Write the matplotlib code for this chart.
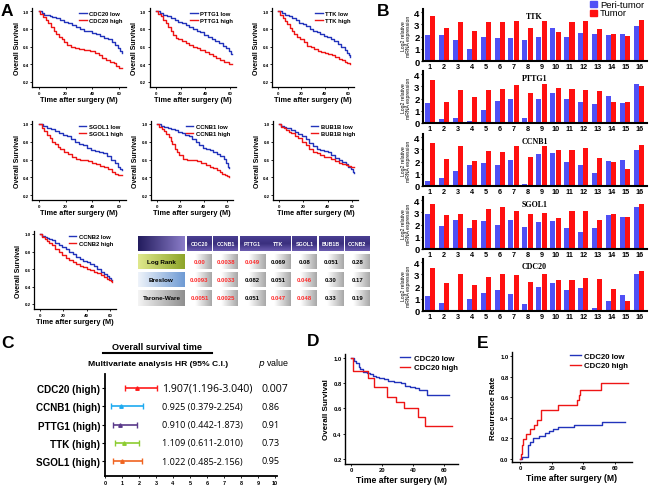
import numpy as np
import matplotlib
matplotlib.use('Agg')
import matplotlib.pyplot as plt
from matplotlib.colors import LinearSegmentedColormap

plt.rcParams['font.family'] = ['Liberation Sans', 'DejaVu Sans']

# ---------------- DATA ----------------
# Panel A: Kaplan-Meier overall survival (months, survival fraction)
cdc20_low_t = [0, 2, 4, 6, 8, 10, 13, 16, 19, 22, 25, 28, 31, 34, 37, 40, 43, 46, 49, 52, 55, 57, 59, 61, 62]
cdc20_low_s = [1.0, .98, .96, .95, .94, .93, .92, .90, .88, .86, .84, .82, .80, .78, .77, .75, .74, .72, .70, .68, .65, .62, .58, .55, .53]
cdc20_high_t = [0, 1, 3, 5, 7, 9, 11, 13, 15, 17, 19, 21, 24, 27, 30, 34, 38, 42, 45, 47, 50, 53, 56, 58, 60, 62]
cdc20_high_s = [1.0, .97, .93, .90, .86, .82, .78, .74, .71, .68, .65, .62, .60, .58, .57, .56, .55, .53, .50, .47, .45, .43, .41, .38, .36, .36]

pttg1_low_t = [0, 3, 6, 9, 12, 15, 18, 21, 24, 27, 30, 33, 36, 39, 42, 45, 48, 51, 54, 57, 59, 61, 62]
pttg1_low_s = [1.0, .98, .96, .94, .92, .90, .88, .86, .84, .82, .80, .78, .76, .73, .71, .68, .66, .64, .61, .58, .55, .52, .51]
pttg1_high_t = [0, 2, 4, 6, 8, 10, 12, 14, 16, 18, 21, 24, 27, 30, 33, 36, 40, 43, 46, 49, 52, 55, 57, 59, 62]
pttg1_high_s = [1.0, .97, .94, .90, .86, .82, .77, .73, .70, .68, .66, .64, .62, .60, .58, .56, .54, .51, .49, .47, .45, .43, .42, .40, .40]

ttk_low_t = [0, 3, 6, 9, 12, 15, 18, 21, 24, 27, 30, 33, 36, 39, 42, 45, 48, 51, 54, 57, 59, 61, 62]
ttk_low_s = [1.0, .98, .96, .94, .92, .90, .87, .85, .83, .80, .78, .76, .74, .72, .71, .69, .66, .63, .60, .56, .53, .50, .48]
ttk_high_t = [0, 2, 4, 6, 8, 10, 12, 14, 16, 19, 22, 25, 28, 31, 34, 37, 40, 43, 46, 49, 52, 55, 57, 59, 62]
ttk_high_s = [1.0, .96, .92, .89, .85, .81, .77, .74, .71, .68, .65, .61, .59, .57, .55, .54, .53, .51, .50, .48, .46, .45, .43, .41, .40]

sgol1_low_t = [0, 3, 6, 9, 12, 15, 18, 21, 24, 27, 30, 33, 36, 39, 42, 45, 48, 51, 54, 57, 59, 61, 62]
sgol1_low_s = [1.0, .98, .96, .94, .92, .90, .88, .86, .83, .80, .78, .76, .73, .71, .70, .69, .67, .64, .60, .56, .52, .49, .48]
sgol1_high_t = [0, 2, 4, 6, 8, 10, 12, 14, 16, 19, 22, 25, 28, 31, 34, 37, 40, 43, 46, 49, 52, 55, 57, 59, 62]
sgol1_high_s = [1.0, .96, .92, .88, .84, .80, .77, .74, .72, .69, .66, .63, .61, .60, .59, .58, .56, .55, .53, .51, .49, .46, .44, .43, .42]

ccnb1_low_t = [0, 3, 6, 9, 12, 15, 18, 21, 24, 27, 30, 33, 36, 39, 42, 45, 48, 51, 54, 57, 59, 61, 62]
ccnb1_low_s = [1.0, .98, .97, .96, .94, .93, .91, .90, .88, .86, .83, .80, .76, .73, .72, .71, .69, .66, .64, .61, .56, .52, .50]
ccnb1_high_t = [0, 2, 4, 6, 8, 10, 12, 13, 15, 17, 19, 22, 26, 30, 34, 38, 42, 45, 48, 51, 54, 56, 58, 60, 62]
ccnb1_high_s = [1.0, .97, .94, .92, .89, .85, .81, .77, .72, .68, .65, .61, .60, .59, .58, .56, .54, .52, .50, .48, .46, .44, .42, .41, .40]

bub1b_low_t = [0, 2, 4, 6, 8, 10, 13, 16, 19, 22, 25, 28, 31, 34, 37, 40, 43, 46, 49, 52, 55, 57, 59, 61, 62]
bub1b_low_s = [1.0, .98, .97, .96, .95, .93, .91, .89, .86, .83, .79, .75, .72, .71, .70, .68, .65, .62, .59, .57, .55, .52, .49, .46, .45]
bub1b_high_t = [0, 2, 4, 6, 8, 10, 13, 16, 19, 22, 25, 28, 31, 34, 37, 40, 43, 46, 49, 52, 55, 57, 59, 61, 62]
bub1b_high_s = [1.0, .97, .95, .93, .91, .90, .87, .84, .80, .76, .72, .69, .67, .65, .63, .63, .61, .58, .56, .55, .54, .53, .52, .51, .51]

ccnb2_low_t = [0, 2, 4, 6, 8, 10, 13, 16, 19, 22, 25, 28, 31, 34, 37, 40, 43, 46, 49, 52, 55, 57, 59, 61, 62]
ccnb2_low_s = [1.0, .98, .97, .95, .94, .93, .90, .87, .85, .83, .80, .77, .74, .71, .69, .68, .66, .63, .60, .57, .54, .52, .50, .48, .47]
ccnb2_high_t = [0, 2, 4, 6, 8, 10, 13, 16, 19, 22, 25, 28, 31, 34, 37, 40, 43, 46, 49, 52, 55, 57, 59, 61, 62]
ccnb2_high_s = [1.0, .97, .94, .92, .90, .87, .83, .79, .76, .73, .70, .68, .66, .64, .62, .60, .59, .57, .55, .53, .51, .49, .47, .46, .45]

# Table p-values
table_genes = ['CDC20', 'CCNB1', 'PTTG1', 'TTK', 'SGOL1', 'BUB1B', 'CCNB2']
table_tests = ['Log Rank', 'Breslow', 'Tarone-Ware']
logrank_p = ['0.00', '0.0038', '0.049', '0.069', '0.08', '0.051', '0.28']
breslow_p = ['0.0093', '0.0033', '0.082', '0.051', '0.046', '0.30', '0.17']
tarone_p = ['0.0051', '0.0025', '0.051', '0.047', '0.048', '0.33', '0.19']

# Panel B: Log2 relative mRNA expression in 16 paired samples
samples = list(range(1, 17))
ttk_peri = [2.1, 2.1, 1.7, 1.0, 2.0, 1.9, 1.85, 1.7, 2.0, 2.7, 2.0, 2.3, 2.2, 2.1, 2.2, 2.9]
ttk_tumor = [3.7, 2.7, 3.2, 2.5, 3.2, 3.2, 3.3, 2.7, 3.25, 2.4, 3.2, 3.25, 2.6, 2.2, 2.05, 3.35]
pttg1_peri = [1.6, 0.3, 0.4, 0.2, 1.1, 1.8, 2.0, 0.4, 1.95, 2.45, 1.95, 1.7, 1.55, 2.2, 1.6, 3.2]
pttg1_tumor = [3.5, 1.7, 2.7, 2.1, 2.7, 2.75, 3.1, 2.5, 3.2, 2.9, 2.75, 2.7, 2.65, 1.7, 1.7, 3.0]
ccnb1_peri = [0.4, 0.63, 1.2, 1.75, 1.9, 1.75, 2.1, 0.15, 2.6, 2.7, 2.0, 1.7, 1.1, 2.05, 2.1, 2.95]
ccnb1_tumor = [3.5, 2.2, 3.3, 2.05, 2.9, 2.8, 3.3, 2.35, 3.3, 2.95, 2.95, 3.15, 2.3, 1.95, 1.4, 3.35]
sgol1_peri = [2.9, 1.9, 2.4, 1.7, 2.3, 2.0, 2.4, 1.8, 2.2, 2.3, 1.7, 1.4, 1.75, 2.8, 2.6, 3.45]
sgol1_tumor = [3.7, 2.8, 2.9, 2.35, 3.3, 3.45, 3.1, 2.9, 2.95, 2.55, 3.15, 3.1, 2.35, 2.9, 2.6, 3.65]
cdc20_peri = [1.2, 0.63, 0.05, 0.95, 1.45, 1.75, 1.4, 0.6, 1.95, 2.3, 1.7, 1.9, 0.27, 0.8, 1.35, 3.0]
cdc20_tumor = [3.5, 2.3, 3.0, 2.1, 2.8, 3.0, 2.95, 2.4, 3.0, 2.55, 2.55, 2.7, 2.6, 1.8, 0.8, 3.25]

# Panel C: multivariate Cox analysis
c_labels = ['CDC20 (high)', 'CCNB1 (high)', 'PTTG1 (high)', 'TTK (high)', 'SGOL1 (high)']
c_hr = [1.907, 0.925, 0.910, 1.109, 1.022]
c_lo = [1.196, 0.379, 0.442, 0.611, 0.485]
c_hi = [3.040, 2.254, 1.873, 2.010, 2.156]
c_p = ['0.007', '0.86', '0.91', '0.73', '0.95']

# Panel D: overall survival by CDC20
d_low_t = [0, 2, 3, 5, 6, 8, 10, 12, 14, 16, 18, 21, 24, 28, 32, 35, 38, 41, 44, 47, 49, 63]
d_low_s = [1.0, .98, .96, .93, .91, .89, .88, .87, .86, .85, .84, .83, .82, .81, .80, .78, .77, .76, .75, .75, .71, .71]
d_high_t = [0, 1, 11, 15, 23, 29, 34, 43, 48, 65]
d_high_s = [1.0, .90, .84, .77, .69, .65, .60, .53, .46, .46]

# Panel E: recurrence by CDC20
e_low_t = [0, 1, 4.5, 5, 6, 8, 12, 16, 18, 21, 24, 34, 52, 66]
e_low_s = [0, .02, .02, .14, .17, .20, .22, .25, .27, .29, .31, .33, .36, .36]
e_high_t = [0, 0.5, 1, 2, 4, 6, 9, 11, 13, 24, 36, 37, 38, 51, 68]
e_high_s = [0, .05, .14, .19, .24, .29, .33, .38, .48, .52, .57, .62, .67, .74, .74]

BLUE = '#2233bb'
RED = '#ee1515'
BAR_BLUE = '#5050f5'
BAR_RED = '#ff1010'

# ---------------- FIGURE ----------------
W, H = 650, 489
fig = plt.figure(figsize=(6.5, 4.89), dpi=100)


def px_axes(l, t, r, b, **kw):
    return fig.add_axes([l / W, 1 - b / H, (r - l) / W, (b - t) / H], **kw)


def style_axes(ax, lw=1.0):
    for s in ['top', 'right']:
        ax.spines[s].set_visible(False)
    for s in ['left', 'bottom']:
        ax.spines[s].set_linewidth(lw)


def bold_ticks(ax):
    for lbl in ax.get_xticklabels() + ax.get_yticklabels():
        lbl.set_fontweight('bold')


def km_panel(t0, t60, y1, y02, low, high, gene):
    ppt = (t60 - t0) / 60.0
    ppv = (y02 - y1) / 0.8
    xl, xr = -5, 65
    yb, yt = 0.14, 1.03
    ax = px_axes(t0 + xl * ppt, y1 - (yt - 1.0) * ppv, t0 + xr * ppt, y1 + (1.0 - yb) * ppv)
    ax.step(low[0], low[1], where='post', color=BLUE, lw=1.0, label=gene + ' low')
    ax.step(high[0], high[1], where='post', color=RED, lw=1.0, label=gene + ' high')
    ax.set_xlim(xl, xr)
    ax.set_ylim(yb, yt)
    ax.set_xticks([0, 20, 40, 60])
    ax.set_yticks([0.2, 0.4, 0.6, 0.8, 1.0])
    ax.set_yticklabels(['0.2', '0.4', '0.6', '0.8', '1.0'])
    ax.tick_params(labelsize=3.2, length=1.5, width=0.6, pad=1)
    bold_ticks(ax)
    style_axes(ax, 0.9)
    ax.set_xlabel('Time after surgery (M)', fontsize=5.3, fontweight='bold', labelpad=1)
    ax.set_ylabel('Overall Survival', fontsize=5.0, fontweight='bold', labelpad=1.5)
    ax.legend(loc='upper right', frameon=False, handlelength=1.3, handletextpad=0.4,
              borderaxespad=0.1, labelspacing=0.25, prop={'size': 4.2, 'weight': 'bold'})
    return ax


km_panel(39, 119, 12, 83, (cdc20_low_t, cdc20_low_s), (cdc20_high_t, cdc20_high_s), 'CDC20')
km_panel(156, 230, 12, 83, (pttg1_low_t, pttg1_low_s), (pttg1_high_t, pttg1_high_s), 'PTTG1')
km_panel(278, 348, 12, 83, (ttk_low_t, ttk_low_s), (ttk_high_t, ttk_high_s), 'TTK')
km_panel(39, 119, 125, 196, (sgol1_low_t, sgol1_low_s), (sgol1_high_t, sgol1_high_s), 'SGOL1')
km_panel(157, 227, 125, 196, (ccnb1_low_t, ccnb1_low_s), (ccnb1_high_t, ccnb1_high_s), 'CCNB1')
km_panel(279, 352, 125, 196, (bub1b_low_t, bub1b_low_s), (bub1b_high_t, bub1b_high_s), 'BUB1B')
km_panel(40, 110, 235, 305, (ccnb2_low_t, ccnb2_low_s), (ccnb2_high_t, ccnb2_high_s), 'CCNB2')

# ---------------- Panel B ----------------
bar_sets = [('TTK', ttk_peri, ttk_tumor), ('PTTG1', pttg1_peri, pttg1_tumor),
            ('CCNB1', ccnb1_peri, ccnb1_tumor), ('SGOL1', sgol1_peri, sgol1_tumor),
            ('CDC20', cdc20_peri, cdc20_tumor)]
zeros = [62, 124, 187, 250, 312]
ppu = 12.2
x = np.array(samples)
for (name, peri, tum), z in zip(bar_sets, zeros):
    ax = px_axes(423, z - 4.25 * ppu, 647, z)
    ax.bar(x - 0.19, peri, width=0.36, color=BAR_BLUE, linewidth=0)
    ax.bar(x + 0.19, tum, width=0.36, color=BAR_RED, linewidth=0)
    ax.set_xlim(0.5, 16.57)
    ax.set_ylim(0, 4.25)
    ax.set_yticks([0, 1, 2, 3, 4])
    ax.set_xticks(samples)
    ax.tick_params(axis='y', labelsize=6.8, length=1.5, width=0.8, pad=1)
    ax.tick_params(axis='x', labelsize=5.2, length=0, pad=1.5)
    bold_ticks(ax)
    style_axes(ax, 1.5)
    ax.set_ylabel('Log2 relative\nmRNA expression', fontsize=3.7, labelpad=2, linespacing=1.0)
    ax.text(8.5, 3.65, name, ha='center', va='center', family='Liberation Serif',
            fontweight='bold', fontsize=5.8)

# ---------------- Panel C ----------------
axc = px_axes(105, 375, 277, 477)
rows = np.arange(len(c_labels))
c_colors = ['#ff1a1a', '#1eaaf0', '#5a3a8a', '#8ccc30', '#f06420']
for i in rows:
    axc.errorbar(c_hr[i], i, xerr=[[c_hr[i] - c_lo[i]], [c_hi[i] - c_hr[i]]], fmt='^',
                 color=c_colors[i], ms=2.5, capsize=2, elinewidth=1.2, capthick=1.0)
axc.set_xlim(0, 10.12)
axc.set_ylim(4.82, -0.77)
axc.set_xticks(range(0, 11))
axc.set_yticks(rows)
axc.set_yticklabels(c_labels)
axc.tick_params(axis='y', labelsize=7.1, length=2.5, width=0.8, pad=1)
axc.tick_params(axis='x', labelsize=4, length=1.5, width=0.6, pad=1.5)
bold_ticks(axc)
style_axes(axc, 1.3)

# ---------------- Panel D ----------------
axd = px_axes(345, 355, 458, 465)
axd.step(d_low_t, d_low_s, where='post', color=BLUE, lw=1.0, label='CDC20 low')
axd.step(d_high_t, d_high_s, where='post', color=RED, lw=1.0, label='CDC20 high')
axd.set_xlim(-3.87, 69)
axd.set_ylim(0.159, 1.032)
axd.set_xticks([0, 20, 40, 60])
axd.set_yticks([0.2, 0.4, 0.6, 0.8, 1.0])
axd.set_yticklabels(['0.2', '0.4', '0.6', '0.8', '1.0'])
axd.tick_params(labelsize=4.2, length=1.5, width=0.6, pad=1)
bold_ticks(axd)
style_axes(axd, 1.0)
axd.set_xlabel('Time after surgery (M)', fontsize=6.2, fontweight='bold', labelpad=1.5)
axd.set_ylabel('Overall Survival', fontsize=5.8, fontweight='bold', labelpad=2)
axd.legend(loc='upper right', bbox_to_anchor=(1.03, 1.03), frameon=False, handlelength=1.4,
           handletextpad=0.4, borderaxespad=0.1, labelspacing=0.25,
           prop={'size': 5.6, 'weight': 'bold'})

# ---------------- Panel E ----------------
axe = px_axes(512, 353, 632, 463)
axe.step(e_low_t, e_low_s, where='post', color=BLUE, lw=1.0, label='CDC20 low')
axe.step(e_high_t, e_high_s, where='post', color=RED, lw=1.0, label='CDC20 high')
axe.set_xlim(-5.05, 70.7)
axe.set_ylim(-0.029, 1.039)
axe.set_xticks([0, 20, 40, 60])
axe.set_yticks([0.0, 0.2, 0.4, 0.6, 0.8, 1.0])
axe.set_yticklabels(['0.0', '0.2', '0.4', '0.6', '0.8', '1.0'])
axe.tick_params(labelsize=4.2, length=1.5, width=0.6, pad=1)
bold_ticks(axe)
style_axes(axe, 1.0)
axe.set_xlabel('Time after surgery (M)', fontsize=6.2, fontweight='bold', labelpad=1.5)
axe.set_ylabel('Recurrence Rate', fontsize=5.8, fontweight='bold', labelpad=2)
axe.legend(loc='upper right', bbox_to_anchor=(1.0, 1.03), frameon=False, handlelength=1.4,
           handletextpad=0.4, borderaxespad=0.1, labelspacing=0.25,
           prop={'size': 5.6, 'weight': 'bold'})

# ---------------- Overlay: letters, table, texts ----------------
ov = fig.add_axes([0, 0, 1, 1])
ov.set_xlim(0, W)
ov.set_ylim(H, 0)
ov.axis('off')


def grad_rect(x0, y0, x1, y1, colors, horiz=True, zorder=1):
    cmap = LinearSegmentedColormap.from_list('g', colors)
    g = np.linspace(0, 1, 64)
    img = g[None, :] if horiz else g[:, None]
    ov.imshow(img, cmap=cmap, extent=(x0, x1, y1, y0), aspect='auto',
              interpolation='bilinear', zorder=zorder)


for letter, (lx, ly) in zip('ABCDE', [(7, 12), (383, 12), (8, 343), (313, 342), (483, 343)]):
    ov.text(lx, ly, letter, fontsize=12.5, fontweight='bold', ha='center', va='center')

# Table
hdr = (237, 252)
trows = [(255, 270), (273, 288), (291, 307)]
first_col = (138, 185)
col_x0 = [187 + i * 26.3 for i in range(len(table_genes))]
col_w = 25
grad_rect(first_col[0], hdr[0], first_col[1], hdr[1], ['#231c5e', '#8a7cc8'])
for g, cx in zip(table_genes, col_x0):
    grad_rect(cx, hdr[0], cx + col_w, hdr[1], ['#4a3f92', '#3a2f7e', '#6b5cb0'], horiz=False)
    ov.text(cx + col_w / 2, (hdr[0] + hdr[1]) / 2, g, color='white', fontsize=3.8,
            fontweight='bold', ha='center', va='center', zorder=3)
row_cols = [['#dfe88c', '#8ea52a'], ['#eef3fa', '#6f9bd4'], ['#f4f4f4', '#8f8f8f']]
all_p = [logrank_p, breslow_p, tarone_p]
for (y0, y1), test, rc, pv in zip(trows, table_tests, row_cols, all_p):
    grad_rect(first_col[0], y0, first_col[1], y1, rc)
    ov.text((first_col[0] + first_col[1]) / 2, (y0 + y1) / 2, test, fontsize=4.6,
            fontweight='bold', ha='center', va='center', zorder=3)
    for cx, v in zip(col_x0, pv):
        grad_rect(cx, y0, cx + col_w, y1, ['#ffffff', '#ffffff', '#d4d4d4', '#a8a8a8'])
        col = '#ff2a2a' if float(v) < 0.05 else 'black'
        ov.text(cx + col_w / 2, (y0 + y1) / 2, v, fontsize=4.3, fontweight='bold',
                color=col, ha='center', va='center', zorder=3)

# Panel B legend
ov.add_patch(plt.Rectangle((590, 2), 7, 6, color=BAR_BLUE, zorder=3))
ov.add_patch(plt.Rectangle((590, 11), 7, 6, color=BAR_RED, zorder=3))
ov.text(600, 5, 'Peri-tumor', fontsize=6.8, va='center', ha='left', zorder=3)
ov.text(600, 14, 'Tumor', fontsize=6.8, va='center', ha='left', zorder=3)

# Panel C header and values
ov.text(157, 347, 'Overall survival time', fontsize=6.6, fontweight='bold', ha='center', va='center')
ov.plot([103, 212], [354, 354], color='black', lw=1.5)
ov.text(158, 364, 'Multivariate analysis HR (95% C.I.)', fontsize=6.1, fontweight='bold',
        ha='center', va='center')
ov.text(273, 364, r'$p$ value', fontsize=6.4, ha='center', va='center')
row_y = [389 + i * 18.25 for i in range(len(c_labels))]
for i, y in enumerate(row_y):
    if i == 0:
        txt = f'{c_hr[i]:.3f}({c_lo[i]:.3f}-{c_hi[i]:.3f})'
        ov.text(162, y, txt, fontsize=7.6, ha='left', va='center', family='Open Sans')
        ov.text(262, y, c_p[i], fontsize=7.6, ha='left', va='center', family='Open Sans')
    else:
        txt = f'{c_hr[i]:.3f} ({c_lo[i]:.3f}-{c_hi[i]:.3f})'
        ov.text(162, y, txt, fontsize=6.6, ha='left', va='center', family='Open Sans')
        ov.text(262, y, c_p[i], fontsize=6.6, ha='left', va='center', family='Open Sans')

fig.savefig('out.png', dpi=100)
